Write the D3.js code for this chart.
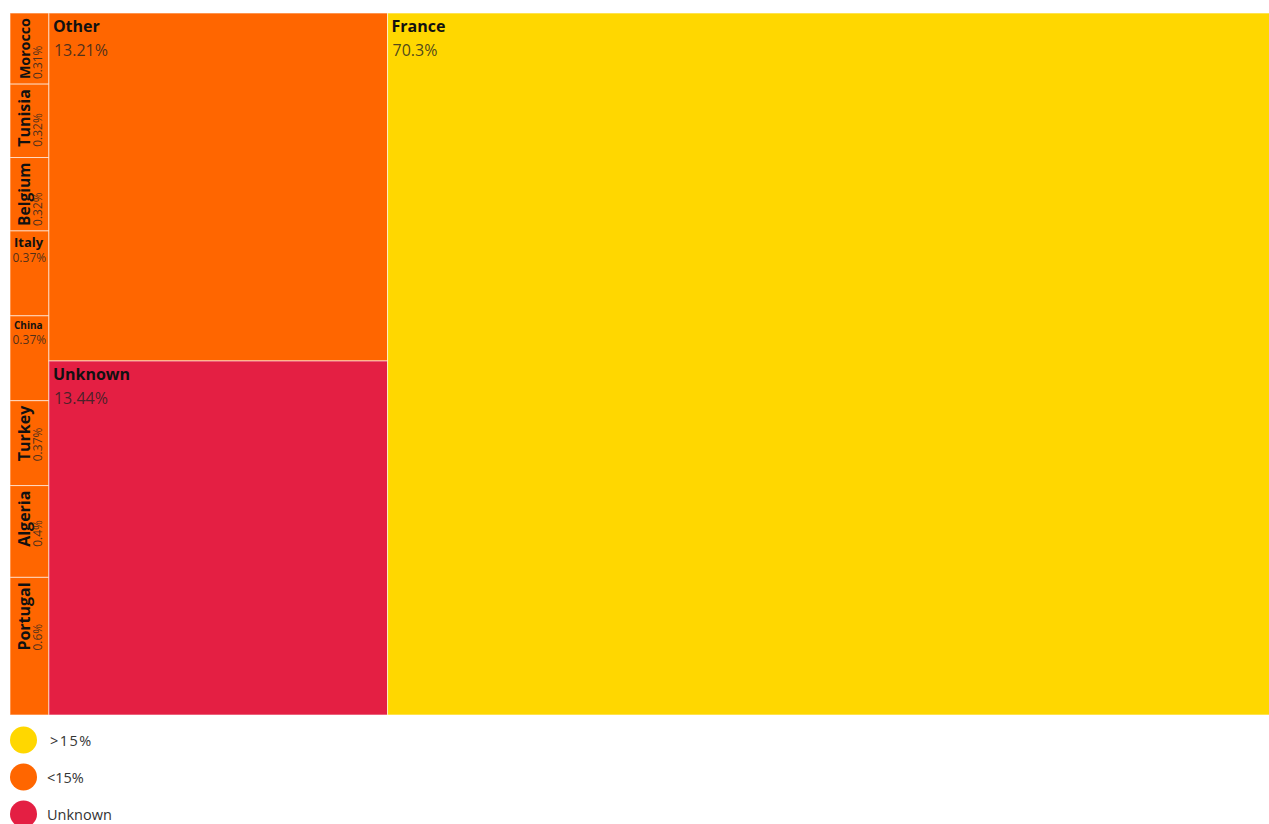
<!DOCTYPE html>
<html>
<head>
<meta charset="utf-8">
<script src="https://cdn.jsdelivr.net/npm/d3@7"></script>
<style>
  body { margin: 0; background: #fff; }
  svg { display: block; font-family: "Open Sans", sans-serif; }
</style>
</head>
<body>
<svg id="drawing_region"></svg>
<script>
// values (percent of total)
const countries = ["Morocco", "Tunisia", "Belgium", "Italy", "China", "Turkey", "Algeria", "Portugal", "Other", "Unknown", "France"];
const shares    = [0.31, 0.32, 0.32, 0.37, 0.37, 0.37, 0.4, 0.6, 13.21, 13.44, 70.3];
const groups    = ["<15%", "<15%", "<15%", "<15%", "<15%", "<15%", "<15%", "<15%", "<15%", "Unknown", ">15%"];
const legendLabels = [">15%", "<15%", "Unknown"];
const legendColors = ["#FFD700", "#FF6600", "#E41F43"];

const config = {
    width: 1269,
    height: 824,
    margin: {top: 13, left: 10},
    treeWidth: 1271,
    treeHeight: 702,
};

const svg = d3.select('#drawing_region')
    .attr('width', config.width)
    .attr('height', config.height);

const color = d3.scaleOrdinal()
    .domain(legendLabels)
    .range(legendColors);

const data = {
    name: "root",
    children: countries.map((c, i) => ({name: c, value: shares[i], group: groups[i]}))
};

const root = d3.hierarchy(data)
    .sum(d => d.value || 0)
    .sort((a, b) => a.value - b.value);

d3.treemap()
    .tile(d3.treemapSquarify.ratio(1))
    .size([config.treeWidth, config.treeHeight])
    .round(false)(root);

const chart = svg.append('g')
    .attr('transform', `translate(${config.margin.left}, ${config.margin.top})`);

const cell = chart.selectAll('g.cell')
    .data(root.leaves())
    .join('g')
    .attr('class', 'cell')
    .attr('transform', d => `translate(${d.x0}, ${d.y0})`);

cell.append('rect')
    .attr('width', d => d.x1 - d.x0)
    .attr('height', d => d.y1 - d.y0)
    .attr('fill', d => color(d.data.group))
    .attr('stroke', '#fff')
    .attr('stroke-opacity', 0.6)
    .attr('stroke-width', 1);

cell.each(function(d) {
    const g = d3.select(this);
    const w = d.x1 - d.x0;
    const h = d.y1 - d.y0;
    const pct = d.data.value + '%';

    if (w > 120) {
        // big cells
        g.append('text')
            .attr('x', 4).attr('y', 19)
            .attr('font-size', 16).attr('font-weight', 'bold')
            .attr('fill', '#111')
            .text(d.data.name);
        g.append('text')
            .attr('x', 5).attr('y', 43)
            .attr('font-size', 16)
            .attr('fill', '#222').attr('fill-opacity', 0.8)
            .text(pct);
        return;
    }

    // small cells: horizontal if the name fits, else rotated
    const name = g.append('text')
        .attr('font-weight', 'bold')
        .attr('fill', '#111')
        .text(d.data.name);
    let size = 14;
    name.attr('font-size', size);
    while (size >= 10 && name.node().getComputedTextLength() > w - 8) {
        size -= 1;
        name.attr('font-size', size);
    }

    if (size >= 10) {
        name.attr('x', 4).attr('y', size + 3);
        g.append('text')
            .attr('x', 2.5).attr('y', size + 18)
            .attr('font-size', 12)
            .attr('fill', '#222').attr('fill-opacity', 0.8)
            .text(pct);
    } else {
        // rotated: 16px, shrunk to fit the cell height
        name.attr('font-size', 16);
        let len = name.node().getComputedTextLength();
        let rsize = 16;
        if (len > h - 10) {
            rsize = 16 * (h - 10) / len;
            len = h - 10;
        }
        name.remove();
        const lab = g.append('g')
            .attr('transform', `translate(0, ${5 + len}) rotate(-90)`);
        lab.append('text')
            .attr('x', 0).attr('y', 20)
            .attr('font-size', rsize).attr('font-weight', 'bold')
            .attr('fill', '#111')
            .text(d.data.name);
        lab.append('text')
            .attr('x', 0).attr('y', 32)
            .attr('font-size', 12)
            .attr('fill', '#222').attr('fill-opacity', 0.8)
            .text(pct);
    }
});

// legend
const legend = svg.append('g')
    .attr('transform', `translate(0, 740)`);

const item = legend.selectAll('g')
    .data(legendLabels)
    .join('g')
    .attr('transform', (d, i) => `translate(0, ${i * 37})`);

item.append('circle')
    .attr('cx', 23.5).attr('cy', 0).attr('r', 13.5)
    .attr('fill', d => color(d));

item.append('text')
    .attr('x', (d, i) => i === 0 ? 50 : 47).attr('y', 5.5)
    .attr('font-size', 14.5)
    .attr('letter-spacing', (d, i) => i === 0 ? 1.5 : 0)
    .attr('fill', '#333')
    .text(d => d);
</script>
</body>
</html>
